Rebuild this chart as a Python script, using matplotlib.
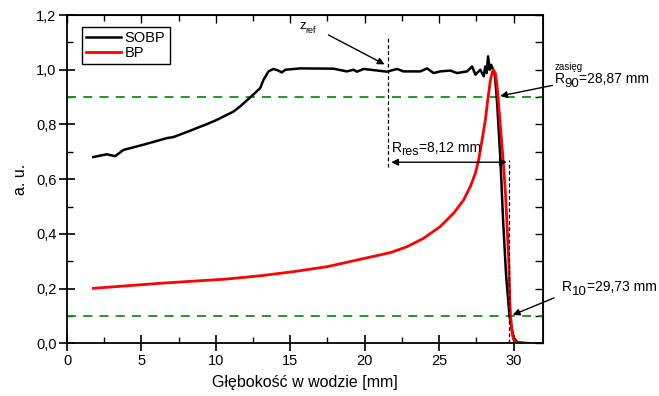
import matplotlib
matplotlib.use("Agg")
import matplotlib.pyplot as plt
from matplotlib.ticker import MultipleLocator, FuncFormatter

plt.rcParams['font.family'] = ['Liberation Sans', 'DejaVu Sans']

# SOBP (black) - depth [mm], a.u.
sobp_x = [1.77, 2.67, 3.23, 3.79, 5.13, 6.70, 7.15, 8.27, 8.72, 9.39, 10.07, 10.51, 11.18,
          11.63, 12.31, 12.98, 13.2, 13.54, 13.87, 14.2, 14.43, 14.66, 15.67,
          17.9, 18.8, 19.25, 19.48, 19.93, 21.5, 22.17, 22.6, 23.74, 24.19, 24.63, 25.08,
          25.76, 26.2, 26.88, 27.22, 27.44, 27.77, 28.0, 28.1, 28.2, 28.29, 28.4, 28.5,
          28.63, 28.75, 28.9, 29.12, 29.3, 29.5, 29.73, 30.0, 30.3, 31.1]
sobp_y = [0.681, 0.691, 0.684, 0.707, 0.726, 0.750, 0.754, 0.777, 0.787, 0.801, 0.817, 0.829,
          0.847, 0.866, 0.899, 0.933, 0.963, 0.994, 1.003, 0.997, 0.990, 1.000,
          1.005, 1.004, 0.994, 1.000, 0.993, 1.003, 0.993, 1.003, 0.994, 0.994, 1.005, 0.988,
          0.994, 0.997, 0.988, 0.994, 1.012, 0.982, 1.000, 0.976, 1.012, 0.988, 1.049, 1.000,
          1.018, 1.000, 0.980, 0.878, 0.671, 0.450, 0.250, 0.100, 0.020, 0.003, 0.0]

# BP (red)
bp_x = [1.77, 6.25, 10.74, 12.98, 15.22, 17.46, 19.03, 21.72, 22.84, 23.96, 25.08, 25.98,
        26.65, 27.1, 27.44, 27.66, 27.89, 28.11, 28.27, 28.45, 28.63, 28.78, 28.9, 29.12,
        29.3, 29.46, 29.57, 29.68, 29.75, 29.8, 29.9, 30.0, 30.2, 30.8]
bp_y = [0.201, 0.2195, 0.235, 0.247, 0.262, 0.280, 0.299, 0.3315, 0.353, 0.384, 0.427, 0.476,
        0.524, 0.573, 0.622, 0.671, 0.744, 0.817, 0.890, 0.963, 1.000, 0.988, 0.939, 0.793,
        0.671, 0.549, 0.427, 0.305, 0.160, 0.100, 0.040, 0.015, 0.003, 0.0]

z_ref = 21.6
r90 = 28.87
r10 = 29.73

fig = plt.figure(figsize=(6.59, 3.96), dpi=100)
ax = fig.add_axes([0.1017, 0.133, 0.7227, 0.829])


def sub_label(x, y, main, sub, rest, size, subsize, drop):
    t = ax.text(x, y, main, fontsize=size, clip_on=False)
    s = ax.annotate(sub, xy=(1, 0), xycoords=t, xytext=(0, -drop), textcoords='offset points',
                    fontsize=subsize, va='bottom', ha='left', annotation_clip=False)
    if rest:
        ax.annotate(rest, xy=(1, 0), xycoords=s, xytext=(0, drop), textcoords='offset points',
                    fontsize=size, va='bottom', ha='left', annotation_clip=False)


ax.axhline(0.9, color='#1a8a1a', ls=(0, (5, 4)), lw=1.3)
ax.axhline(0.1, color='#1a8a1a', ls=(0, (5, 4)), lw=1.3)

ax.plot(sobp_x, sobp_y, color='black', lw=1.8, label='SOBP')
ax.plot(bp_x, bp_y, color='red', lw=2.0, label='BP')

# dashed verticals
ax.plot([z_ref, z_ref], [0.645, 1.12], color='black', ls=(0, (3, 2)), lw=0.9)
ax.plot([r10, r10], [0.0, 0.67], color='black', ls=(0, (3, 2)), lw=0.9)

# R_res double arrow
ax.annotate('', xy=(z_ref, 0.662), xytext=(r10, 0.662),
            arrowprops=dict(arrowstyle='<|-|>', color='black', lw=1.0, mutation_scale=10))
sub_label(z_ref + 0.2, 0.70, 'R', 'res', '=8,12 mm', 10, 9, 2.5)

# z_ref
ax.annotate('', xy=(z_ref - 0.1, 1.015), xytext=(17.4, 1.132),
            arrowprops=dict(arrowstyle='-|>', color='black', lw=1.0, mutation_scale=10))
sub_label(15.6, 1.15, 'z', 'ref', '', 9.5, 6.5, 2.5)

# R90
ax.annotate('', xy=(r90 + 0.05, 0.902), xytext=(32.8, 0.945),
            arrowprops=dict(arrowstyle='-|>', color='black', lw=1.0, mutation_scale=10),
            annotation_clip=False)
ax.text(32.75, 1.0, 'zasięg', fontsize=7, clip_on=False)
sub_label(32.75, 0.95, 'R', '90', '=28,87 mm', 10, 9.5, 2.5)

# R10
ax.annotate('', xy=(r10 + 0.05, 0.1), xytext=(32.9, 0.17),
            arrowprops=dict(arrowstyle='-|>', color='black', lw=1.0, mutation_scale=10),
            annotation_clip=False)
sub_label(33.25, 0.19, 'R', '10', '=29,73 mm', 10, 9.5, 2.5)

ax.set_xlim(0, 32)
ax.set_ylim(0, 1.2)
ax.xaxis.set_major_locator(MultipleLocator(5))
ax.xaxis.set_minor_locator(MultipleLocator(2.5))
ax.yaxis.set_major_locator(MultipleLocator(0.2))
ax.yaxis.set_minor_locator(MultipleLocator(0.1))
ax.yaxis.set_major_formatter(FuncFormatter(lambda v, p: ('%.1f' % v).replace('.', ',')))
ax.tick_params(which='major', direction='inout', length=11, width=1.2, labelsize=10.5, pad=2)
ax.tick_params(which='minor', direction='in', length=4, width=1.0)
for s in ax.spines.values():
    s.set_linewidth(1.3)

top = ax.secondary_xaxis('top')
top.xaxis.set_major_locator(MultipleLocator(5))
top.xaxis.set_minor_locator(MultipleLocator(2.5))
top.tick_params(which='both', direction='in', labeltop=False, width=1.0)
top.tick_params(which='major', length=6)
top.tick_params(which='minor', length=4)
right = ax.secondary_yaxis('right')
right.yaxis.set_major_locator(MultipleLocator(0.2))
right.yaxis.set_minor_locator(MultipleLocator(0.1))
right.tick_params(which='both', direction='in', labelright=False, width=1.0, length=6)

ax.set_xlabel('Głębokość w wodzie [mm]', fontsize=11.5, labelpad=5)
ax.set_ylabel('a. u.', fontsize=11.5, labelpad=6)

leg = ax.legend(loc='upper left', bbox_to_anchor=(0.031, 0.965), borderaxespad=0,
                fancybox=False, edgecolor='black', framealpha=1, fontsize=10.5,
                handlelength=2.4, borderpad=0.3, labelspacing=0.05, handletextpad=0.25)
leg.get_frame().set_linewidth(1.0)

fig.savefig('out.png', dpi=100)
